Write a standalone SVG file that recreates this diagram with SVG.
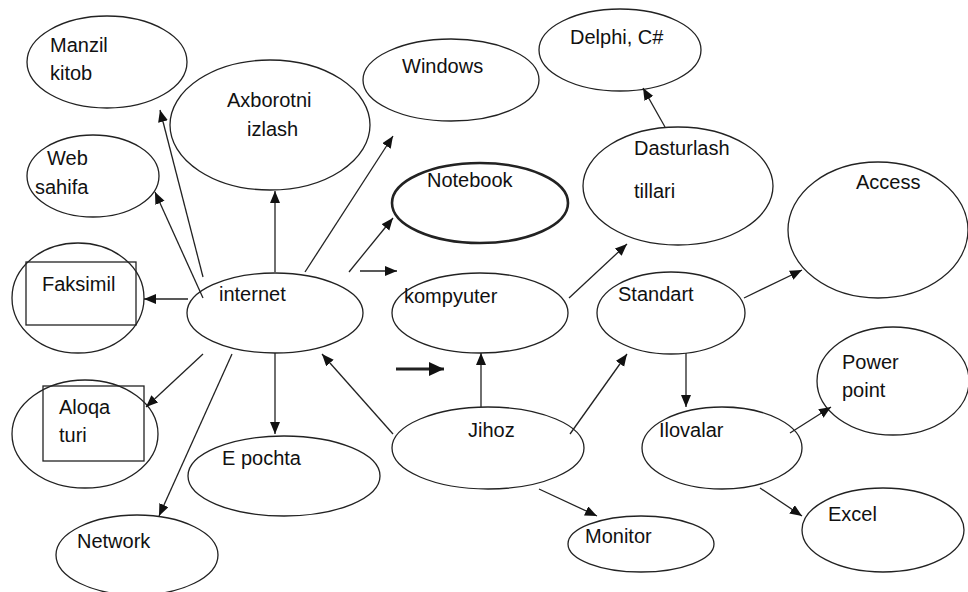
<svg xmlns="http://www.w3.org/2000/svg" width="968" height="592" viewBox="0 0 968 592">
<style>
  .n ellipse, .n rect { fill: none; stroke: #222; stroke-width: 1.3; }
  .thick ellipse { stroke-width: 2.6; }
  text { font-family: "Liberation Sans", Arial, sans-serif; font-size: 20px; fill: #111; }
  .c line { stroke: #222; stroke-width: 1.3; marker-end: url(#ah); }
  .c line.big { stroke-width: 2.8; marker-end: url(#ahb); }
</style>
<defs>
  <marker id="ah" markerUnits="userSpaceOnUse" markerWidth="13" markerHeight="11" refX="12" refY="5" orient="auto">
    <path d="M0,0 L12,5 L0,10 z" fill="#111"/>
  </marker>
  <marker id="ahb" markerUnits="userSpaceOnUse" markerWidth="16" markerHeight="14" refX="15" refY="7" orient="auto">
    <path d="M0,0 L15,7 L0,14 z" fill="#111"/>
  </marker>
</defs>
<rect width="968" height="592" fill="#fff"/>

<g id="manzil" class="n"><ellipse cx="107" cy="62" rx="80" ry="46"/><text x="50" y="52">Manzil</text><text x="50" y="80">kitob</text></g>
<g id="axborotni" class="n"><ellipse cx="270" cy="125" rx="100" ry="65"/><text x="227" y="107">Axborotni</text><text x="247" y="136">izlash</text></g>
<g id="web" class="n"><ellipse cx="93" cy="176" rx="66" ry="41"/><text x="47" y="165">Web</text><text x="35" y="194">sahifa</text></g>
<g id="windows" class="n"><ellipse cx="451" cy="80" rx="88" ry="41"/><text x="402" y="73">Windows</text></g>
<g id="delphi" class="n"><ellipse cx="620" cy="50" rx="81" ry="41"/><text x="570" y="44">Delphi, C#</text></g>
<g id="notebook" class="n thick"><ellipse cx="480" cy="203" rx="88" ry="40"/><text x="427" y="187">Notebook</text></g>
<g id="dasturlash" class="n"><ellipse cx="678" cy="186" rx="95" ry="59"/><text x="634" y="155">Dasturlash</text><text x="634" y="198">tillari</text></g>
<g id="access" class="n"><ellipse cx="878" cy="230" rx="90" ry="68"/><text x="856" y="189">Access</text></g>
<g id="faksimil" class="n"><ellipse cx="78" cy="298" rx="66" ry="55"/><rect x="26" y="262" width="110" height="63"/><text x="42" y="291">Faksimil</text></g>
<g id="internet" class="n"><ellipse cx="275" cy="313" rx="88" ry="40"/><text x="219" y="301">internet</text></g>
<g id="kompyuter" class="n"><ellipse cx="480" cy="313" rx="88" ry="40"/><text x="404" y="303">kompyuter</text></g>
<g id="standart" class="n"><ellipse cx="671" cy="313" rx="74" ry="41"/><text x="618" y="301">Standart</text></g>
<g id="power" class="n"><ellipse cx="893" cy="381" rx="76" ry="54"/><text x="842" y="369">Power</text><text x="842" y="397">point</text></g>
<g id="aloqa" class="n"><ellipse cx="85" cy="434" rx="73" ry="54"/><rect x="43" y="386" width="101" height="75"/><text x="59" y="414">Aloqa</text><text x="59" y="442">turi</text></g>
<g id="jihoz" class="n"><ellipse cx="488" cy="448" rx="96" ry="41"/><text x="468" y="437">Jihoz</text></g>
<g id="ilovalar" class="n"><ellipse cx="722" cy="448" rx="80" ry="41"/><text x="659" y="437">Ilovalar</text></g>
<g id="epochta" class="n"><ellipse cx="284" cy="476" rx="96" ry="40"/><text x="222" y="465">E pochta</text></g>
<g id="excel" class="n"><ellipse cx="883" cy="530" rx="81" ry="42"/><text x="828" y="521">Excel</text></g>
<g id="monitor" class="n"><ellipse cx="641" cy="544" rx="73" ry="28"/><text x="585" y="543">Monitor</text></g>
<g id="network" class="n"><ellipse cx="137" cy="555" rx="81" ry="40"/><text x="77" y="548">Network</text></g>

<g id="connectors" class="c">
  <line x1="203" y1="277" x2="160" y2="110"/>
  <line x1="203" y1="298" x2="155" y2="192"/>
  <line x1="275" y1="272" x2="275" y2="191"/>
  <line x1="305" y1="272" x2="393" y2="136"/>
  <line x1="349" y1="272" x2="393" y2="218"/>
  <line x1="360" y1="271" x2="397" y2="271"/>
  <line class="big" x1="396" y1="369" x2="444" y2="369"/>
  <line x1="188" y1="299" x2="144" y2="299"/>
  <line x1="203" y1="354" x2="146" y2="407"/>
  <line x1="232" y1="354" x2="159" y2="516"/>
  <line x1="275" y1="353" x2="275" y2="434"/>
  <line x1="393" y1="434" x2="322" y2="354"/>
  <line x1="481" y1="407" x2="481" y2="353"/>
  <line x1="570" y1="434" x2="627" y2="354"/>
  <line x1="569" y1="298" x2="627" y2="244"/>
  <line x1="665" y1="127" x2="643" y2="88"/>
  <line x1="744" y1="298" x2="802" y2="270"/>
  <line x1="686" y1="353" x2="686" y2="407"/>
  <line x1="790" y1="433" x2="831" y2="407"/>
  <line x1="760" y1="488" x2="802" y2="516"/>
  <line x1="539" y1="489" x2="597" y2="516"/>
</g>
</svg>
